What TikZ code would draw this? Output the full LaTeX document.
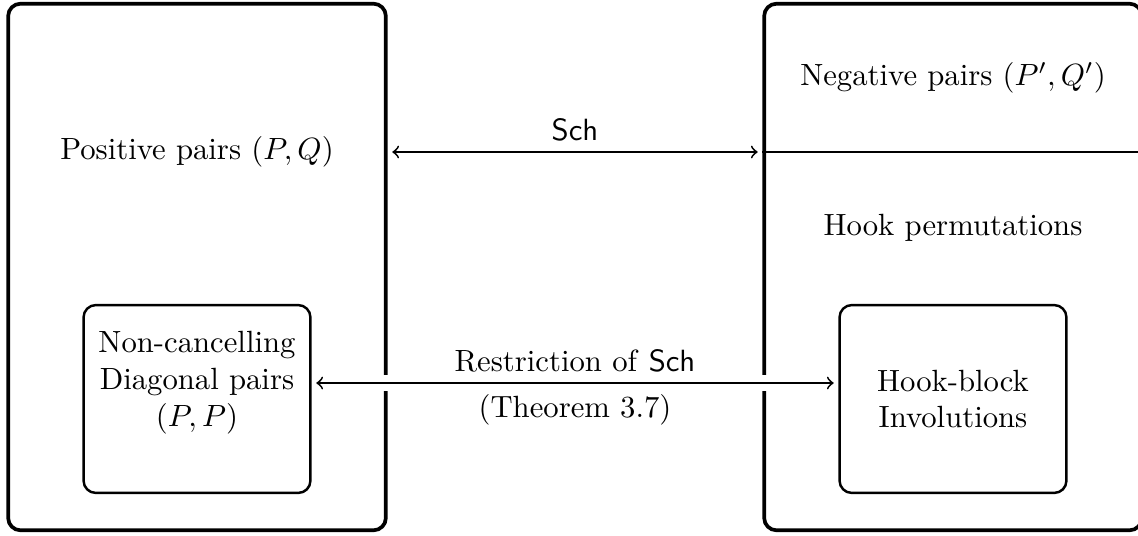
\documentclass[tikz,border=0pt]{standalone}
\usetikzlibrary{calc}
\tikzset{
  bb/.style={draw,very thick,rounded corners=4pt,minimum width=123pt,minimum height=171.5pt,inner sep=0pt},
  ib/.style={draw,thick,rounded corners=4pt,minimum width=73.9pt,minimum height=61.2pt,inner sep=0pt,align=center},
  tl/.style={inner sep=1pt,align=center},
  ar/.style={semithick,<->,shorten <=1.5pt,shorten >=1.5pt},
  halo/.style={white,line width=5pt,shorten <=2pt,shorten >=2pt}
}
\begin{document}
\begin{tikzpicture}[x=0.3257pt,y=-0.3257pt]
    \useasboundingbox (0,0) rectangle (1138,535);
    \node[bb] (lbox) at (197,267) {};
    \node[bb] (rbox) at (953,267) {};
    \node[tl] (pos) at (197,152) {Positive pairs $(P,Q)$};
    \node[tl] (neg) at (953,78) {Negative pairs $(P',Q')$};
    \node[tl] (hperm) at (953,228) {Hook permutations};
    \node[ib] (diag) at (197,399) {};
    \node[tl] (diagtxt) at (197,383) {Non-cancelling\\Diagonal pairs\\$(P,P)$};
    \node[ib] (hookblk) at (953,399) {Hook-block\\Involutions};
    \draw[semithick] (rbox.west |- pos) -- (rbox.east |- pos);
    \draw[ar] (lbox.east |- pos) -- node[above]{\textsf{Sch}} (rbox.west |- pos);
    \draw[halo] (diag.east |- diagtxt) -- (hookblk.west |- diagtxt);
    \draw[ar] (diag.east |- diagtxt) -- node[above]{Restriction of \textsf{Sch}} node[below]{(Theorem 3.7)} (hookblk.west |- diagtxt);
\end{tikzpicture}
\end{document}
